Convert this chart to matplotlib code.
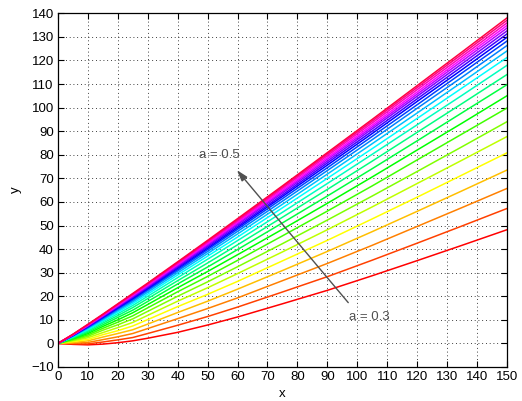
import colorsys
import matplotlib
matplotlib.use('Agg')
import matplotlib.pyplot as plt

# sample positions along x
x = [0, 5, 10, 15, 20, 25, 30, 40, 50, 60, 75, 90, 105, 120, 135, 150]

# one curve per value of a, from a = 0.3 (bottom) to a = 0.5 (top)
curves = [
    [0, -0.4, -0.6, -0.3, 0.3, 1.1, 2.2, 4.7, 7.8, 11.2, 16.8, 22.5, 28.7, 35.1, 41.6, 48.2],
    [0, -0.2, -0.2, 0.6, 1.5, 2.5, 4.2, 7.7, 11.4, 15.4, 21.8, 28.3, 35.3, 42.5, 49.8, 57.2],
    [0, 0.1, 0.4, 1.6, 2.8, 4.2, 6.3, 10.5, 14.8, 19.3, 26.6, 33.9, 41.6, 49.6, 57.6, 65.7],
    [0, 0.4, 1.1, 2.7, 4.2, 5.8, 8.2, 13.1, 17.9, 23.0, 30.9, 39.0, 47.4, 56.0, 64.7, 73.5],
    [0, 0.8, 1.7, 3.7, 5.4, 7.4, 10.1, 15.6, 20.8, 26.3, 35.0, 43.7, 52.8, 62.0, 71.4, 80.8],
    [0, 1.1, 2.4, 4.6, 6.7, 8.9, 11.9, 17.9, 23.6, 29.6, 38.8, 48.2, 57.9, 67.8, 77.7, 87.7],
    [0, 1.4, 3.0, 5.6, 7.9, 10.4, 13.6, 20.0, 26.1, 32.5, 42.3, 52.3, 62.5, 72.9, 83.4, 94.0],
    [0, 1.7, 3.6, 6.4, 9.0, 11.7, 15.1, 21.9, 28.4, 35.2, 45.6, 56.1, 66.8, 77.8, 88.8, 99.8],
    [0, 2.0, 4.2, 7.2, 10.0, 13.0, 16.5, 23.6, 30.5, 37.6, 48.4, 59.4, 70.6, 82.0, 93.4, 105.0],
    [0, 2.2, 4.7, 7.9, 11.0, 14.1, 17.8, 25.2, 32.4, 39.8, 51.1, 62.5, 74.1, 85.9, 97.8, 109.7],
    [0, 2.5, 5.2, 8.6, 11.8, 15.2, 19.0, 26.6, 34.1, 41.8, 53.5, 65.3, 77.3, 89.5, 101.7, 114.0],
    [0, 2.7, 5.7, 9.2, 12.6, 16.1, 20.0, 27.9, 35.7, 43.6, 55.6, 67.8, 80.2, 92.7, 105.2, 117.9],
    [0, 2.9, 6.0, 9.7, 13.3, 16.9, 20.9, 29.0, 37.0, 45.1, 57.5, 70.0, 82.6, 95.4, 108.3, 121.2],
    [0, 3.0, 6.4, 10.1, 13.9, 17.6, 21.7, 29.9, 38.1, 46.4, 59.0, 71.8, 84.7, 97.7, 110.8, 124.0],
    [0, 3.2, 6.7, 10.5, 14.4, 18.2, 22.4, 30.7, 39.0, 47.5, 60.3, 73.3, 86.4, 99.7, 112.9, 126.3],
    [0, 3.3, 6.9, 10.8, 14.8, 18.7, 22.9, 31.3, 39.8, 48.4, 61.4, 74.5, 87.8, 101.2, 114.7, 128.2],
    [0, 3.4, 7.1, 11.1, 15.1, 19.1, 23.3, 31.9, 40.4, 49.1, 62.3, 75.6, 89.0, 102.6, 116.1, 129.8],
    [0, 3.5, 7.2, 11.3, 15.4, 19.5, 23.7, 32.3, 41.0, 49.7, 63.0, 76.5, 90.0, 103.7, 117.4, 131.2],
    [0, 3.6, 7.4, 11.5, 15.7, 19.8, 24.1, 32.8, 41.5, 50.4, 63.8, 77.3, 91.0, 104.8, 118.6, 132.5],
    [0, 3.6, 7.6, 11.7, 15.9, 20.1, 24.4, 33.2, 42.0, 50.9, 64.4, 78.1, 91.8, 105.7, 119.7, 133.7],
    [0, 3.7, 7.7, 11.9, 16.1, 20.4, 24.7, 33.5, 42.4, 51.4, 65.0, 78.8, 92.6, 106.6, 120.7, 134.8],
    [0, 3.8, 7.8, 12.1, 16.4, 20.7, 25.0, 33.9, 42.9, 51.9, 65.7, 79.6, 93.5, 107.6, 121.7, 135.9],
    [0, 3.8, 8.0, 12.2, 16.6, 20.9, 25.3, 34.3, 43.3, 52.4, 66.3, 80.3, 94.3, 108.5, 122.7, 137.0],
    [0, 3.9, 8.1, 12.4, 16.8, 21.2, 25.6, 34.6, 43.7, 52.9, 66.8, 80.9, 95.0, 109.3, 123.6, 138.0],
]

xticks = list(range(0, 151, 10))
yticks = list(range(-10, 141, 10))

plt.rcParams['font.family'] = ['Liberation Sans', 'DejaVu Sans']
plt.rcParams['font.size'] = 9.5

fig = plt.figure(figsize=(5.22, 4.01), dpi=100)
ax = fig.add_axes([0.111, 0.0848, 0.860, 0.882])

# hsv colours, red at the bottom curve round to pink at the top
n = len(curves)
for i, y in enumerate(curves):
    col = colorsys.hsv_to_rgb(i / n, 1.0, 1.0)
    ax.plot(x, y, color=col, lw=1.1)

ax.set_xlim(0, 150)
ax.set_ylim(-10, 140)
ax.set_xticks(xticks)
ax.set_yticks(yticks)
ax.tick_params(direction='in', length=4, width=0.8, top=True, right=True, pad=3)
ax.grid(True, color='k', linestyle=(0, (1, 3.5)), linewidth=0.6)
for s in ax.spines.values():
    s.set_linewidth(0.9)

ax.set_xlabel('x')
ax.set_ylabel('y')
ax.xaxis.set_label_coords(0.5, -0.06)
ax.yaxis.set_label_coords(-0.08, 0.5)

# arrow pointing from the a = 0.3 curve towards a = 0.5
ax.annotate('', xy=(59.8, 73.5), xytext=(97, 17.3),
            arrowprops=dict(arrowstyle='-|>,head_length=0.7,head_width=0.22',
                            color='#505050', lw=1.0, shrinkA=0, shrinkB=0))
ax.text(54, 80, 'a = 0.5', color='#505050', ha='center', va='center')
ax.text(104, 11, 'a = 0.3', color='#505050', ha='center', va='center')

fig.savefig('out.png', dpi=100)
